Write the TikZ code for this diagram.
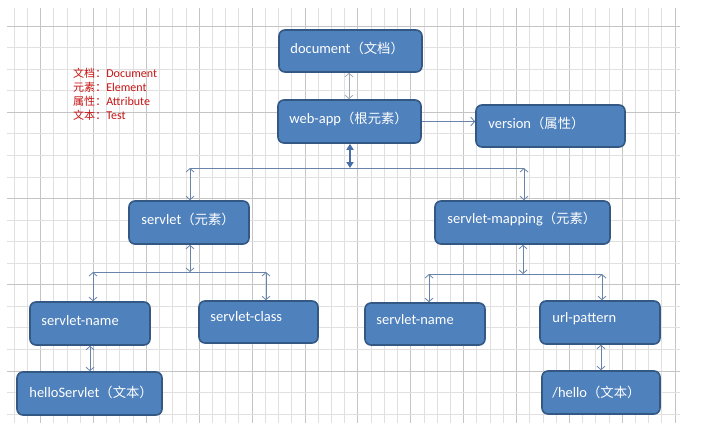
\documentclass[tikz,border=0pt]{standalone}
\usepackage{fontspec}
\setmainfont{Carlito}
\newfontfamily\cjk[Scale=0.92]{Noto Sans CJK SC}
\usetikzlibrary{arrows.meta}
\definecolor{boxfill}{RGB}{79,129,189}
\definecolor{boxdraw}{RGB}{52,88,132}
\definecolor{conn}{RGB}{105,132,170}
\definecolor{connlight}{RGB}{160,168,180}
\definecolor{connbold}{RGB}{70,110,168}
\definecolor{legred}{RGB}{200,20,20}
\definecolor{gridminor}{RGB}{224,224,224}
\definecolor{gridmajor}{RGB}{196,196,196}
\begin{document}
\begin{tikzpicture}[x=1pt,y=-1pt,
  elbox/.style={draw=boxdraw, fill=boxfill, line width=1.6pt, rounded corners=6pt, inner sep=0pt},
  lbl/.style={anchor=west, text=white, inner sep=0pt, font=\fontsize{14.5}{17}\selectfont},
  legend/.style={anchor=west, text=legred, inner sep=0pt, font=\fontsize{12}{14}\selectfont},
  link/.style={draw=conn, line width=0.8pt, {Straight Barb[length=3.5pt,width=8pt]}-{Straight Barb[length=3.5pt,width=8pt]}},
  linklight/.style={link, draw=connlight},
  boldlink/.style={draw=connbold, line width=1.6pt, {Triangle[length=6pt,width=7pt]}-{Triangle[length=6pt,width=7pt]}},
  bar/.style={draw=conn, line width=0.8pt},
  single/.style={draw=conn, line width=0.8pt, -{Straight Barb[length=4pt,width=9pt]}}
]
\useasboundingbox (0,0) rectangle (704,423);
\fill[white] (0,0) rectangle (704,423);
% grid
\foreach \k in {0,...,50}{
  \pgfmathtruncatemacro\m{mod(\k,4)}
  \ifnum\m=2 \def\gc{gridmajor}\else\def\gc{gridminor}\fi
  \draw[\gc, line width=0.6pt] ({14+13.22*\k},8) -- ({14+13.22*\k},423);
}
\foreach \k in {0,...,18}{
  \pgfmathtruncatemacro\m{mod(\k,4)}
  \ifnum\m=0 \def\gc{gridmajor}\else\def\gc{gridminor}\fi
  \draw[\gc, line width=0.6pt] (7,{26+21.55*\k}) -- (680,{26+21.55*\k});
}
% legend
\node[legend] (leg1) at (73,73) {{\cjk 文档：}Document};
\node[legend] (leg2) at (73,87) {{\cjk 元素：}Element};
\node[legend] (leg3) at (73,101) {{\cjk 属性：}Attribute};
\node[legend] (leg4) at (73,115) {{\cjk 文本：}Test};
% boxes
\node[elbox, minimum width=143pt, minimum height=42pt] (doc) at (350.5,51) {};
\node[elbox, minimum width=143pt, minimum height=43pt] (web) at (349.5,121.5) {};
\node[elbox, minimum width=149pt, minimum height=42pt] (ver) at (550.5,126) {};
\node[elbox, minimum width=120pt, minimum height=43pt] (srv) at (189,222.5) {};
\node[elbox, minimum width=175pt, minimum height=43pt] (map) at (522.5,222.5) {};
\node[elbox, minimum width=120pt, minimum height=43pt] (sn1) at (90,323.5) {};
\node[elbox, minimum width=119pt, minimum height=42pt] (sc) at (258.5,322) {};
\node[elbox, minimum width=145pt, minimum height=43pt] (hs) at (89.5,393.5) {};
\node[elbox, minimum width=120pt, minimum height=42pt] (sn2) at (425,324) {};
\node[elbox, minimum width=120pt, minimum height=43pt] (url) at (600,322.5) {};
\node[elbox, minimum width=118pt, minimum height=43pt] (hel) at (601,392.5) {};
% labels
\node[lbl] (tdoc) at ([xshift=12pt,yshift=3pt]doc.west) {document{\cjk（文档）}};
\node[lbl] (tweb) at ([xshift=12pt,yshift=3pt]web.west) {web-app{\cjk（根元素）}};
\node[lbl] (tver) at ([xshift=13pt,yshift=3pt]ver.west) {version{\cjk（属性）}};
\node[lbl] (tsrv) at ([xshift=13pt,yshift=3pt]srv.west) {servlet{\cjk（元素）}};
\node[lbl] (tmap) at ([xshift=13pt,yshift=3pt]map.west) {servlet-mapping{\cjk（元素）}};
\node[lbl] (tsn1) at ([xshift=12pt,yshift=3pt]sn1.west) {servlet-name};
\node[lbl] (tsc) at ([xshift=12pt,yshift=5pt]sc.west) {servlet-class};
\node[lbl] (ths) at ([xshift=13pt,yshift=1pt]hs.west) {helloServlet{\cjk（文本）}};
\node[lbl] (tsn2) at ([xshift=12pt,yshift=4pt]sn2.west) {servlet-name};
\node[lbl] (turl) at ([xshift=13pt,yshift=4pt]url.west) {url-pattern};
\node[lbl] (thel) at ([xshift=11pt,yshift=0pt]hel.west) {/hello{\cjk（文本）}};
% junction coordinates
\coordinate (j1) at (350,168);
\coordinate (j1l) at (190,168);
\coordinate (j1r) at (524,168);
\coordinate (j2) at (190,272);
\coordinate (j2l) at (93,272);
\coordinate (j2r) at (266,272);
\coordinate (j3) at (523,274);
\coordinate (j3l) at (429,274);
\coordinate (j3r) at (602,274);
% connectors
\draw[linklight] ([xshift=-1.5pt]doc.south) -- ([xshift=-1.5pt]doc.south |- web.north);
\draw[single] (web.east) -- (web.east -| ver.west);
\draw[boldlink] (web.south |- web.south) ++(0.5,0) coordinate (wbs) (wbs) -- (wbs |- j1);
\draw[bar] (j1l) -- (j1r);
\draw[link] (j1l) -- (j1l |- srv.north);
\draw[link] (j1r) -- (j1r |- map.north);
\draw[link] (j2 |- srv.south) -- (j2);
\draw[bar] (j2l) -- (j2r);
\draw[link] (j2l) -- (j2l |- sn1.north);
\draw[link] (j2r) -- (j2r |- sc.north);
\draw[link] (j3 |- map.south) -- (j3);
\draw[bar] (j3l) -- (j3r);
\draw[link] (j3l) -- (j3l |- sn2.north);
\draw[link] (j3r) -- (j3r |- url.north);
\draw[link] (sn1.south) -- (sn1.south |- hs.north);
\draw[link] ([xshift=1pt]url.south) -- ([xshift=1pt]url.south |- hel.north);
\end{tikzpicture}
\end{document}
